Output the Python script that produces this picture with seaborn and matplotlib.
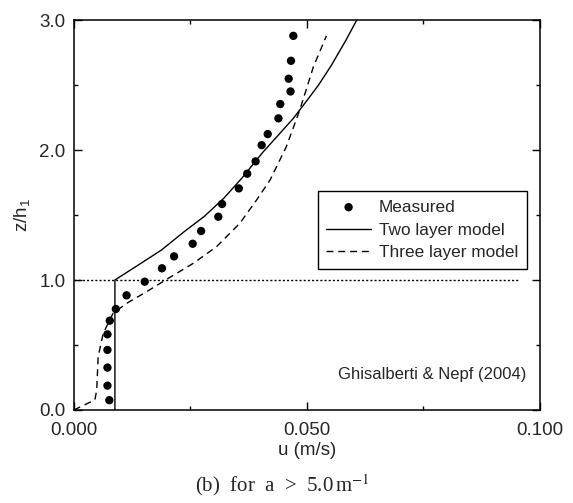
import numpy as np
import pandas as pd
import matplotlib.pyplot as plt
from matplotlib.ticker import MultipleLocator, FixedLocator
import seaborn as sns

# Measured velocity profile (Ghisalberti & Nepf 2004)
meas_u = [0.0076, 0.0072, 0.0072, 0.0072, 0.0072, 0.0077, 0.0090, 0.0113, 0.0152,
          0.0189, 0.0215, 0.0255, 0.0273, 0.0310, 0.0318, 0.0354, 0.0372, 0.0390,
          0.0403, 0.0416, 0.0439, 0.0443, 0.0465, 0.0461, 0.0466, 0.0471]
meas_z = [0.075, 0.187, 0.326, 0.462, 0.582, 0.687, 0.777, 0.882, 0.987,
          1.090, 1.182, 1.279, 1.377, 1.487, 1.585, 1.705, 1.818, 1.913,
          2.038, 2.123, 2.244, 2.354, 2.451, 2.549, 2.687, 2.879]

# Two layer model
two_u = [0.0088, 0.0088, 0.0138, 0.0188, 0.0236, 0.0280, 0.0322, 0.0362, 0.0406,
         0.0440, 0.0471, 0.0500, 0.0525, 0.0553, 0.0584, 0.0607]
two_z = [0.0, 1.0, 1.115, 1.231, 1.370, 1.490, 1.630, 1.790, 1.985,
         2.120, 2.244, 2.380, 2.500, 2.654, 2.846, 3.0]

# Three layer model
three_u = [0.0, 0.0045, 0.0049, 0.0052, 0.0063, 0.0084, 0.0113, 0.0156, 0.0199,
           0.0256, 0.0306, 0.0356, 0.0392, 0.0421, 0.0456, 0.0485, 0.0514, 0.0542]
three_z = [0.0, 0.077, 0.154, 0.41, 0.59, 0.744, 0.82, 0.91, 1.005,
           1.128, 1.256, 1.436, 1.615, 1.769, 2.026, 2.31, 2.64, 2.879]

# canopy top line
top_u = [0.0, 0.0953]
top_z = [1.0, 1.0]

sns.set_style('ticks')
plt.rcParams['font.family'] = ['Liberation Sans', 'DejaVu Sans']
plt.rcParams['mathtext.fontset'] = 'custom'
plt.rcParams['mathtext.rm'] = 'Liberation Sans'
plt.rcParams['mathtext.it'] = 'Liberation Sans:italic'

fig = plt.figure(figsize=(5.73, 5.03), dpi=100)
ax = fig.add_axes([0.129, 0.185, 0.813, 0.775])

df_two = pd.DataFrame({'u': two_u, 'z': two_z})
df_three = pd.DataFrame({'u': three_u, 'z': three_z})
df_top = pd.DataFrame({'u': top_u, 'z': top_z})

sns.lineplot(data=df_top, x='u', y='z', sort=False, estimator=None, ax=ax,
             color='black', lw=1.0, linestyle=(0, (1.5, 1.5)))
sns.lineplot(data=df_two, x='u', y='z', sort=False, estimator=None, ax=ax,
             color='black', lw=1.0, label='Two layer model')
sns.lineplot(data=df_three, x='u', y='z', sort=False, estimator=None, ax=ax,
             color='black', lw=1.0, linestyle=(0, (5, 3.5)), label='Three layer model')
sns.scatterplot(x=meas_u, y=meas_z, ax=ax, color='black', s=36, edgecolor='none',
                label='Measured', zorder=5)

ax.set_xlim(0, 0.1)
ax.set_ylim(0, 3.0)
ax.xaxis.set_major_locator(FixedLocator([0.0, 0.05, 0.1]))
ax.xaxis.set_minor_locator(MultipleLocator(0.025))
ax.yaxis.set_major_locator(FixedLocator([0.0, 1.0, 2.0, 3.0]))
ax.yaxis.set_minor_locator(MultipleLocator(0.5))
ax.set_xticklabels(['0.000', '0.050', '0.100'])
ax.set_yticklabels(['0.0', '1.0', '2.0', '3.0'])
ax.tick_params(which='both', direction='in', top=True, right=True, width=1.0,
               labelsize=13.5, color='black')
ax.tick_params(which='major', length=6)
ax.tick_params(which='minor', length=3)
ax.tick_params(axis='x', pad=9)
ax.tick_params(axis='y', pad=6)
for sp in ax.spines.values():
    sp.set_linewidth(1.1)
    sp.set_color('black')

ax.set_xlabel('u (m/s)', fontsize=13.5, labelpad=2)
ax.set_ylabel('z/h$_\\mathregular{1}$', fontsize=13.5, labelpad=5)

handles, labels = ax.get_legend_handles_labels()
order = [labels.index('Measured'), labels.index('Two layer model'),
         labels.index('Three layer model')]
leg = ax.legend([handles[i] for i in order], [labels[i] for i in order],
                loc='upper right', bbox_to_anchor=(0.972, 0.5615), borderaxespad=0,
                fontsize=12.4, frameon=True, fancybox=False, edgecolor='black',
                framealpha=1, handlelength=2.6, handletextpad=0.45,
                labelspacing=0.45, borderpad=0.5)
leg.get_frame().set_linewidth(1.0)

ax.text(0.972, 0.09, 'Ghisalberti & Nepf (2004)', transform=ax.transAxes,
        ha='right', va='center', fontsize=12)

fig.text(0.493, 0.036, '(b)  for  a  >  5.0$\\,$m$^{-1}$', ha='center', va='center',
         fontsize=15, family=['Liberation Serif', 'DejaVu Serif'], math_fontfamily='stix')

fig.savefig('out.png', dpi=100)
